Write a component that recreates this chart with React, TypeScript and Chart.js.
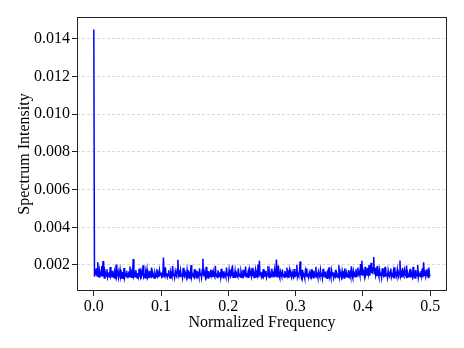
import { useEffect, useRef } from "react";
import { Chart, registerables } from "chart.js";

Chart.register(...registerables);

// Spectrum intensity values (evenly spaced normalized frequency 0 .. 0.5)
const intensity: number[] = [
  0.01450, 0.00138, 0.00165, 0.00147, 0.00182, 0.00141, 0.00215, 0.00150, 0.00136, 0.00172, 0.00158, 0.00143, 0.00195, 0.00139, 0.00221, 0.00146,
  0.00131, 0.00167, 0.00152, 0.00140, 0.00178, 0.00135, 0.00149, 0.00161, 0.00133, 0.00189, 0.00144, 0.00156, 0.00137, 0.00170, 0.00148, 0.00132,
  0.00159, 0.00143, 0.00202, 0.00138, 0.00151, 0.00166, 0.00134, 0.00147, 0.00175, 0.00140, 0.00155, 0.00130, 0.00163, 0.00145, 0.00184, 0.00136,
  0.00152, 0.00141, 0.00169, 0.00133, 0.00148, 0.00157, 0.00139, 0.00192, 0.00144, 0.00135, 0.00160, 0.00149, 0.00231, 0.00142, 0.00154, 0.00137,
  0.00173, 0.00146, 0.00131, 0.00158, 0.00140, 0.00181, 0.00150, 0.00136, 0.00165, 0.00143, 0.00153, 0.00198, 0.00138, 0.00147, 0.00132, 0.00162,
  0.00145, 0.00176, 0.00139, 0.00151, 0.00134, 0.00168, 0.00148, 0.00141, 0.00186, 0.00137, 0.00156, 0.00144, 0.00130, 0.00161, 0.00149, 0.00138,
  0.00179, 0.00143, 0.00155, 0.00135, 0.00171, 0.00147, 0.00160, 0.00140, 0.00152, 0.00133, 0.00240, 0.00146, 0.00139, 0.00188, 0.00142, 0.00157,
  0.00136, 0.00150, 0.00172, 0.00141, 0.00131, 0.00163, 0.00148, 0.00137, 0.00195, 0.00144, 0.00154, 0.00134, 0.00167, 0.00149, 0.00140, 0.00178,
  0.00228, 0.00145, 0.00158, 0.00136, 0.00170, 0.00142, 0.00151, 0.00133, 0.00185, 0.00147, 0.00139, 0.00162, 0.00150, 0.00135, 0.00174, 0.00143,
  0.00156, 0.00131, 0.00166, 0.00148, 0.00200, 0.00138, 0.00153, 0.00144, 0.00137, 0.00177, 0.00146, 0.00159, 0.00132, 0.00169, 0.00141, 0.00152,
  0.00136, 0.00183, 0.00145, 0.00157, 0.00134, 0.00173, 0.00233, 0.00140, 0.00164, 0.00148, 0.00137, 0.00190, 0.00143, 0.00155, 0.00131, 0.00168,
  0.00150, 0.00139, 0.00176, 0.00144, 0.00158, 0.00135, 0.00165, 0.00147, 0.00138, 0.00196, 0.00142, 0.00153, 0.00133, 0.00171, 0.00149, 0.00140,
  0.00161, 0.00136, 0.00180, 0.00146, 0.00154, 0.00132, 0.00167, 0.00143, 0.00151, 0.00137, 0.00187, 0.00145, 0.00159, 0.00134, 0.00174, 0.00148,
  0.00139, 0.00163, 0.00141, 0.00199, 0.00135, 0.00152, 0.00144, 0.00170, 0.00131, 0.00157, 0.00147, 0.00138, 0.00182, 0.00142, 0.00155, 0.00136,
  0.00166, 0.00149, 0.00133, 0.00175, 0.00145, 0.00158, 0.00140, 0.00192, 0.00137, 0.00150, 0.00143, 0.00164, 0.00132, 0.00171, 0.00146, 0.00154,
  0.00139, 0.00185, 0.00141, 0.00160, 0.00134, 0.00148, 0.00173, 0.00137, 0.00156, 0.00144, 0.00203, 0.00135, 0.00222, 0.00147, 0.00162, 0.00138,
  0.00151, 0.00131, 0.00178, 0.00145, 0.00157, 0.00140, 0.00169, 0.00136, 0.00152, 0.00194, 0.00143, 0.00133, 0.00165, 0.00148, 0.00139, 0.00181,
  0.00146, 0.00155, 0.00134, 0.00172, 0.00142, 0.00160, 0.00229, 0.00138, 0.00150, 0.00197, 0.00144, 0.00132, 0.00163, 0.00147, 0.00137, 0.00176,
  0.00141, 0.00154, 0.00135, 0.00168, 0.00149, 0.00139, 0.00186, 0.00145, 0.00158, 0.00131, 0.00170, 0.00143, 0.00152, 0.00136, 0.00162, 0.00148,
  0.00140, 0.00179, 0.00134, 0.00156, 0.00144, 0.00201, 0.00137, 0.00151, 0.00142, 0.00165, 0.00219, 0.00146, 0.00133, 0.00174, 0.00139, 0.00155,
  0.00147, 0.00131, 0.00167, 0.00143, 0.00183, 0.00138, 0.00153, 0.00135, 0.00161, 0.00149, 0.00140, 0.00177, 0.00144, 0.00157, 0.00132, 0.00169,
  0.00145, 0.00138, 0.00191, 0.00142, 0.00150, 0.00134, 0.00164, 0.00148, 0.00137, 0.00172, 0.00141, 0.00159, 0.00133, 0.00180, 0.00146, 0.00153,
  0.00136, 0.00166, 0.00143, 0.00130, 0.00158, 0.00147, 0.00188, 0.00139, 0.00152, 0.00135, 0.00170, 0.00144, 0.00161, 0.00132, 0.00149, 0.00141,
  0.00175, 0.00137, 0.00156, 0.00145, 0.00134, 0.00198, 0.00140, 0.00163, 0.00148, 0.00136, 0.00168, 0.00143, 0.00154, 0.00131, 0.00182, 0.00146,
  0.00139, 0.00160, 0.00150, 0.00135, 0.00173, 0.00142, 0.00155, 0.00138, 0.00193, 0.00147, 0.00133, 0.00167, 0.00144, 0.00152, 0.00137, 0.00178,
  0.00149, 0.00141, 0.00186, 0.00154, 0.00162, 0.00145, 0.00205, 0.00150, 0.00222, 0.00143, 0.00171, 0.00158, 0.00139, 0.00190, 0.00152, 0.00166,
  0.00147, 0.00184, 0.00156, 0.00199, 0.00144, 0.00175, 0.00212, 0.00161, 0.00158, 0.00186, 0.00242, 0.00153, 0.00187, 0.00148, 0.00169, 0.00141,
  0.00196, 0.00155, 0.00138, 0.00172, 0.00146, 0.00160, 0.00135, 0.00183, 0.00149, 0.00142, 0.00165, 0.00137, 0.00191, 0.00144, 0.00153, 0.00133,
  0.00170, 0.00147, 0.00139, 0.00158, 0.00181, 0.00136, 0.00150, 0.00143, 0.00167, 0.00132, 0.00188, 0.00145, 0.00154, 0.00140, 0.00176, 0.00148,
  0.00137, 0.00161, 0.00224, 0.00142, 0.00156, 0.00134, 0.00185, 0.00146, 0.00139, 0.00171, 0.00151, 0.00143, 0.00197, 0.00135, 0.00159, 0.00148,
  0.00140, 0.00178, 0.00133, 0.00164, 0.00150, 0.00138, 0.00190, 0.00145, 0.00155, 0.00131, 0.00173, 0.00147, 0.00142, 0.00200, 0.00136, 0.00157,
  0.00149, 0.00139, 0.00168, 0.00144, 0.00183, 0.00135, 0.00215, 0.00146, 0.00153, 0.00138, 0.00176, 0.00141, 0.00160, 0.00134, 0.00187, 0.00145,
  0.00139,
];

const maxFrequency = 0.5;
const frequencies: number[] = intensity.map((_, i) => (i * maxFrequency) / (intensity.length - 1));

const xTickValues: number[] = [0.0, 0.1, 0.2, 0.3, 0.4, 0.5];
const yTickValues: number[] = [0.002, 0.004, 0.006, 0.008, 0.01, 0.012, 0.014];

const xLabel = "Normalized Frequency";
const yLabel = "Spectrum Intensity";

const FONT = "'Liberation Serif', 'Times New Roman', serif";

const framePlugin = {
  id: "frame",
  afterDraw(chart: any) {
    const { ctx, chartArea } = chart;
    const l = Math.round(chartArea.left) + 0.5;
    const t = Math.round(chartArea.top) + 0.5;
    const r = Math.round(chartArea.right) - 0.5;
    const b = Math.round(chartArea.bottom) - 0.5;
    ctx.save();
    ctx.strokeStyle = "#222222";
    ctx.lineWidth = 1;
    ctx.setLineDash([]);
    ctx.strokeRect(l, t, r - l, b - t);
    ctx.restore();
  },
};

export default function App() {
  const canvasRef = useRef<HTMLCanvasElement | null>(null);

  useEffect(() => {
    if (!canvasRef.current) return;
    const chart = new Chart(canvasRef.current, {
      type: "line",
      data: {
        datasets: [
          {
            data: frequencies.map((f, i) => ({ x: f, y: intensity[i] })),
            borderColor: "#0000ff",
            borderWidth: 1.5,
            pointRadius: 0,
            tension: 0,
            fill: false,
          },
        ],
      },
      options: {
        animation: false,
        responsive: false,
        devicePixelRatio: 1,
        layout: { padding: { top: 17, right: 17, left: 0, bottom: 0 } },
        plugins: {
          legend: { display: false },
          tooltip: { enabled: false },
        },
        scales: {
          x: {
            type: "linear",
            min: -0.025,
            max: 0.525,
            afterFit: (scale: any) => {
              scale.height = 57;
            },
            afterBuildTicks: (scale: any) => {
              scale.ticks = xTickValues.map((v) => ({ value: v }));
            },
            ticks: {
              color: "#000",
              font: { family: FONT, size: 16 },
              padding: 1,
              maxRotation: 0,
              callback: (v: any) => Number(v).toFixed(1),
            },
            grid: {
              drawOnChartArea: false,
              drawTicks: true,
              tickLength: 5,
              tickColor: "#222222",
              tickWidth: 1,
            },
            border: { display: false },
            title: {
              display: true,
              text: xLabel,
              color: "#000",
              font: { family: FONT, size: 16 },
              padding: { top: 0, bottom: 16 },
            },
          },
          y: {
            type: "linear",
            min: 0.00062,
            max: 0.01516,
            afterFit: (scale: any) => {
              scale.width = 77;
            },
            afterBuildTicks: (scale: any) => {
              scale.ticks = yTickValues.map((v) => ({ value: v }));
            },
            ticks: {
              color: "#000",
              font: { family: FONT, size: 16 },
              padding: 2,
              callback: (v: any) => Number(v).toFixed(3),
            },
            grid: {
              color: "#cfcfcf",
              lineWidth: 0.8,
              drawTicks: true,
              tickLength: 5,
              tickColor: "#222222",
              tickWidth: 1,
              tickBorderDash: [],
            },
            border: { display: false, dash: [3, 2] },
            title: {
              display: true,
              text: yLabel,
              color: "#000",
              font: { family: FONT, size: 16 },
              padding: { top: 15, bottom: 0 },
            },
          },
        },
      },
      plugins: [framePlugin],
    });
    return () => chart.destroy();
  }, []);

  return (
    <div style={{ position: "fixed", left: 0, top: 0, width: 464, height: 348, background: "#fff" }}>
      <canvas ref={canvasRef} width={464} height={348} />
    </div>
  );
}
